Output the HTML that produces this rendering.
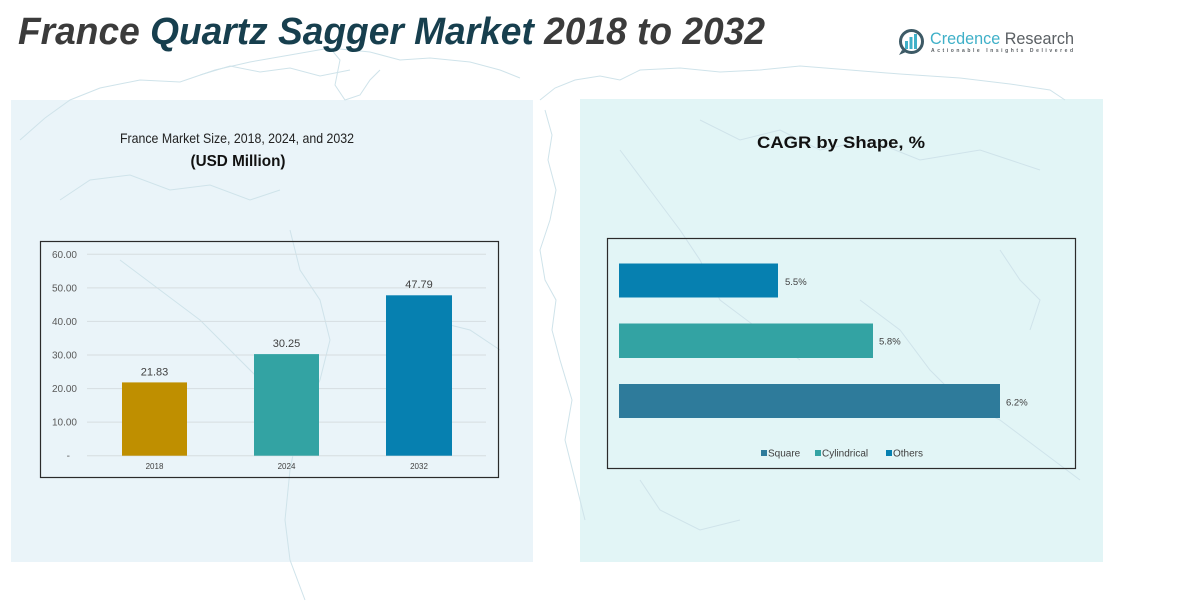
<!DOCTYPE html>
<html>
<head>
<meta charset="utf-8">
<style>
html,body{margin:0;padding:0;background:#ffffff;}
body{width:1195px;height:605px;overflow:hidden;position:relative;font-family:"Liberation Sans",sans-serif;}
svg{position:absolute;left:0;top:0;}
</style>
</head>
<body>
<svg width="1195" height="605" viewBox="0 0 1195 605" xmlns="http://www.w3.org/2000/svg">
  <!-- panels -->
  <rect x="11" y="100" width="522" height="462" fill="#eaf4f9"/>
  <rect x="580" y="99" width="523" height="463" fill="#e2f5f6"/>

  <!-- faint map outlines -->
  <g fill="none" stroke="#cfe3ea" stroke-width="1">
    <path d="M20,140 L45,118 L70,100 L100,88 L140,80 L180,82 L215,70 L250,62 L290,55 L330,48 L370,52 L400,60 L430,58 L470,62 L500,70 L520,78"/>
    <path d="M200,75 L230,66 L260,72 L290,68 L320,76 L350,70"/>
    <path d="M330,48 L340,60 L335,85 L345,100 L360,95 L370,80 L380,70"/>
    <path d="M540,100 L555,88 L575,80 L600,76 L620,80 L640,70 L680,68 L720,72 L760,70 L800,66 L850,70 L900,74 L960,78 L1010,84 L1050,90 L1065,100"/>
    <path d="M545,110 L552,135 L548,160 L556,190 L550,220 L540,250 L545,280 L556,300 L552,330 L560,360 L572,400 L565,440 L575,480 L585,520"/>
    <path d="M290,230 L300,270 L320,300 L330,340 L320,380 L300,420 L290,470 L285,520 L290,560 L305,600"/>
    <path d="M120,260 L160,290 L200,320 L230,350 L260,380"/>
    <path d="M620,150 L650,190 L680,230 L700,260 L720,300 L760,330 L800,360"/>
    <path d="M860,300 L900,330 L930,370 L960,400 L1000,420 L1040,450 L1080,480"/>
    <path d="M60,200 L90,180 L130,175 L170,190 L210,185 L250,200 L280,190"/>
    <path d="M400,300 L430,320 L470,330 L500,350"/>
    <path d="M700,120 L740,140 L780,130 L820,150 L870,140 L920,160 L980,150 L1040,170"/>
    <path d="M1000,250 L1020,280 L1040,300 L1030,330"/>
    <path d="M640,480 L660,510 L700,530 L740,520"/>
  </g>

  <!-- Title -->
  <text x="18" y="44" font-family="Liberation Sans, sans-serif" font-weight="bold" font-style="italic" font-size="38" textLength="747" lengthAdjust="spacingAndGlyphs"><tspan fill="#3b3b3b">France </tspan><tspan fill="#173f4e">Quartz Sagger Market </tspan><tspan fill="#3b3b3b">2018 to 2032</tspan></text>

  <!-- Logo -->
  <g>
    <circle cx="911.5" cy="41.5" r="11" fill="none" stroke="#3d5a66" stroke-width="3"/>
    <path d="M902,50 L899,55 L906,52 Z" fill="#3d5a66"/>
    <rect x="905" y="41" width="3" height="8" fill="#3fb0c8"/>
    <rect x="909.5" y="37" width="3" height="12" fill="#3fb0c8"/>
    <rect x="914" y="34" width="3" height="15" fill="#3fb0c8"/>
    <text x="930" y="44" font-size="16.5" font-family="Liberation Sans, sans-serif" textLength="144" lengthAdjust="spacingAndGlyphs"><tspan fill="#3fb0c8">Credence </tspan><tspan fill="#5a5f63">Research</tspan></text>
    <text x="931" y="52" font-size="5" font-weight="bold" fill="#5a5f63" font-family="Liberation Sans, sans-serif" textLength="142" lengthAdjust="spacing">Actionable Insights Delivered</text>
  </g>

  <!-- Left panel titles -->
  <text x="237" y="143" text-anchor="middle" font-size="14" fill="#222" textLength="234" lengthAdjust="spacingAndGlyphs">France Market Size, 2018, 2024, and 2032</text>
  <text x="238" y="166" text-anchor="middle" font-size="16" font-weight="bold" fill="#111" textLength="95" lengthAdjust="spacingAndGlyphs">(USD Million)</text>

  <!-- Left chart frame -->
  <rect x="40.5" y="241.5" width="458" height="236" fill="none" stroke="#2b2b2b" stroke-width="1.2"/>
  <g stroke="#d6dde0" stroke-width="1">
    <line x1="87" y1="254.3" x2="486" y2="254.3"/>
    <line x1="87" y1="287.9" x2="486" y2="287.9"/>
    <line x1="87" y1="321.4" x2="486" y2="321.4"/>
    <line x1="87" y1="355.0" x2="486" y2="355.0"/>
    <line x1="87" y1="388.6" x2="486" y2="388.6"/>
    <line x1="87" y1="422.1" x2="486" y2="422.1"/>
    <line x1="87" y1="455.7" x2="486" y2="455.7"/>
  </g>
  <g font-size="10" fill="#595959" text-anchor="end">
    <text x="77" y="258">60.00</text>
    <text x="77" y="291.5">50.00</text>
    <text x="77" y="325">40.00</text>
    <text x="77" y="358.5">30.00</text>
    <text x="77" y="392">20.00</text>
    <text x="77" y="425.5">10.00</text>
    <text x="70" y="459">-</text>
  </g>
  <rect x="122" y="382.4" width="65" height="73.3" fill="#bf8f00"/>
  <rect x="254" y="354.1" width="65" height="101.6" fill="#33a3a3"/>
  <rect x="386" y="295.3" width="66" height="160.4" fill="#0680b0"/>
  <g font-size="11" fill="#404040" text-anchor="middle">
    <text x="154.5" y="375.5">21.83</text>
    <text x="286.5" y="347">30.25</text>
    <text x="419" y="288">47.79</text>
  </g>
  <g font-size="8" fill="#404040" text-anchor="middle">
    <text x="154.5" y="469">2018</text>
    <text x="286.5" y="469">2024</text>
    <text x="419" y="469">2032</text>
  </g>

  <!-- Right panel title -->
  <text x="841" y="148" text-anchor="middle" font-size="17" font-weight="bold" fill="#111" textLength="168" lengthAdjust="spacingAndGlyphs">CAGR by Shape, %</text>

  <!-- Right chart frame -->
  <rect x="607.5" y="238.5" width="468" height="230" fill="none" stroke="#2b2b2b" stroke-width="1.2"/>
  <rect x="619" y="263.5" width="159" height="34" fill="#0680b0"/>
  <rect x="619" y="323.5" width="254" height="34.5" fill="#33a3a3"/>
  <rect x="619" y="384" width="381" height="34" fill="#2e7b9b"/>
  <g font-size="9.5" fill="#404040">
    <text x="785" y="285">5.5%</text>
    <text x="879" y="344.5">5.8%</text>
    <text x="1006" y="405.5">6.2%</text>
  </g>
  <!-- legend -->
  <rect x="761" y="450" width="6" height="6" fill="#2e7b9b"/>
  <text x="768" y="456.5" font-size="10" fill="#404040">Square</text>
  <rect x="815" y="450" width="6" height="6" fill="#33a3a3"/>
  <text x="822" y="456.5" font-size="10" fill="#404040">Cylindrical</text>
  <rect x="886" y="450" width="6" height="6" fill="#0680b0"/>
  <text x="893" y="456.5" font-size="10" fill="#404040">Others</text>
</svg>
</body>
</html>
